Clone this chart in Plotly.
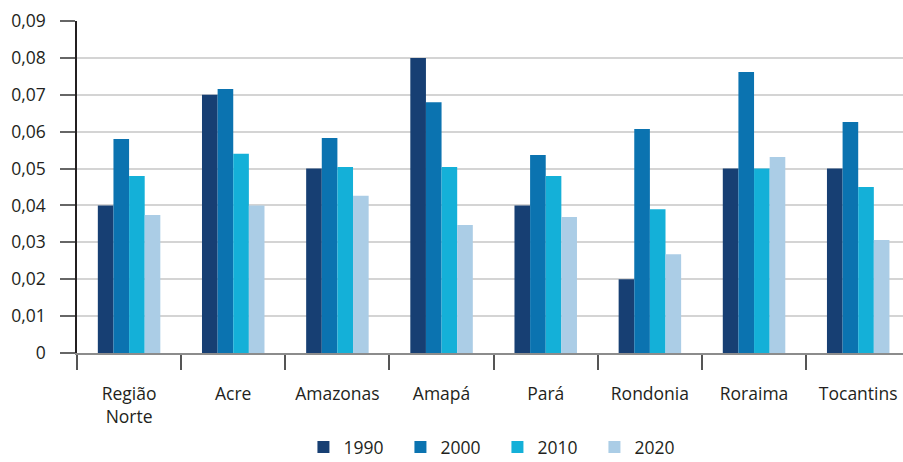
import plotly.graph_objects as go

categories = ["Região<br>Norte", "Acre", "Amazonas", "Amapá", "Pará", "Rondonia", "Roraima", "Tocantins"]
years = ["1990", "2000", "2010", "2020"]
v1990 = [0.040, 0.070, 0.050, 0.080, 0.040, 0.020, 0.050, 0.050]
v2000 = [0.058, 0.0716, 0.0583, 0.068, 0.0537, 0.0607, 0.0762, 0.0626]
v2010 = [0.048, 0.054, 0.0504, 0.0504, 0.048, 0.039, 0.050, 0.045]
v2020 = [0.0374, 0.040, 0.0426, 0.0347, 0.0369, 0.0268, 0.0531, 0.0306]
series = [v1990, v2000, v2010, v2020]
colors = ["#173f73", "#0b73b0", "#14b0d8", "#abcde6"]

ytick_vals = [0, 0.01, 0.02, 0.03, 0.04, 0.05, 0.06, 0.07, 0.08, 0.09]
ytick_text = ["0", "0,01", "0,02", "0,03", "0,04", "0,05", "0,06", "0,07", "0,08", "0,09"]

fig = go.Figure()
for name, vals, col in zip(years, series, colors):
    fig.add_trace(go.Bar(x=categories, y=vals, name=name, marker_color=col,
                         marker_line_width=0))

font_fam = "Open Sans, Noto Sans, sans-serif"
fig.update_layout(
    width=903, height=462,
    margin=dict(l=77, r=0, t=21, b=109, autoexpand=False),
    plot_bgcolor="white", paper_bgcolor="white",
    barmode="group", bargap=0.4, bargroupgap=0,
    font=dict(family=font_fam, size=17, color="#231f20"),
    showlegend=True,
    legend=dict(orientation="h", x=0.509, xanchor="center", yref="container",
                y=0.032, yanchor="middle",
                font=dict(size=17.5), entrywidth=52, entrywidthmode="pixels",
                itemclick=False),
    xaxis=dict(range=[-0.5, 7.43], showline=True, linecolor="#8c8c8c", linewidth=1.5,
               ticks="outside", tickson="boundaries", ticklen=15, tickcolor="#555",
               tickwidth=1.5, tickfont=dict(size=17.5), ticklabelstandoff=24,
               showgrid=False, automargin=False),
    yaxis=dict(range=[0, 0.09], tickvals=ytick_vals, ticktext=ytick_text,
               showline=True, linecolor="#231f20", linewidth=1.5,
               ticks="outside", ticklen=15, tickcolor="#666", tickwidth=1.5,
               showgrid=True, gridcolor="#d4d4d4", gridwidth=1.5,
               tickfont=dict(size=17.5), ticklabelstandoff=11,
               zeroline=False, automargin=False),
)
fig.write_html("out.html", post_script="document.body.style.margin='0px';",
               config={"displayModeBar": False})
